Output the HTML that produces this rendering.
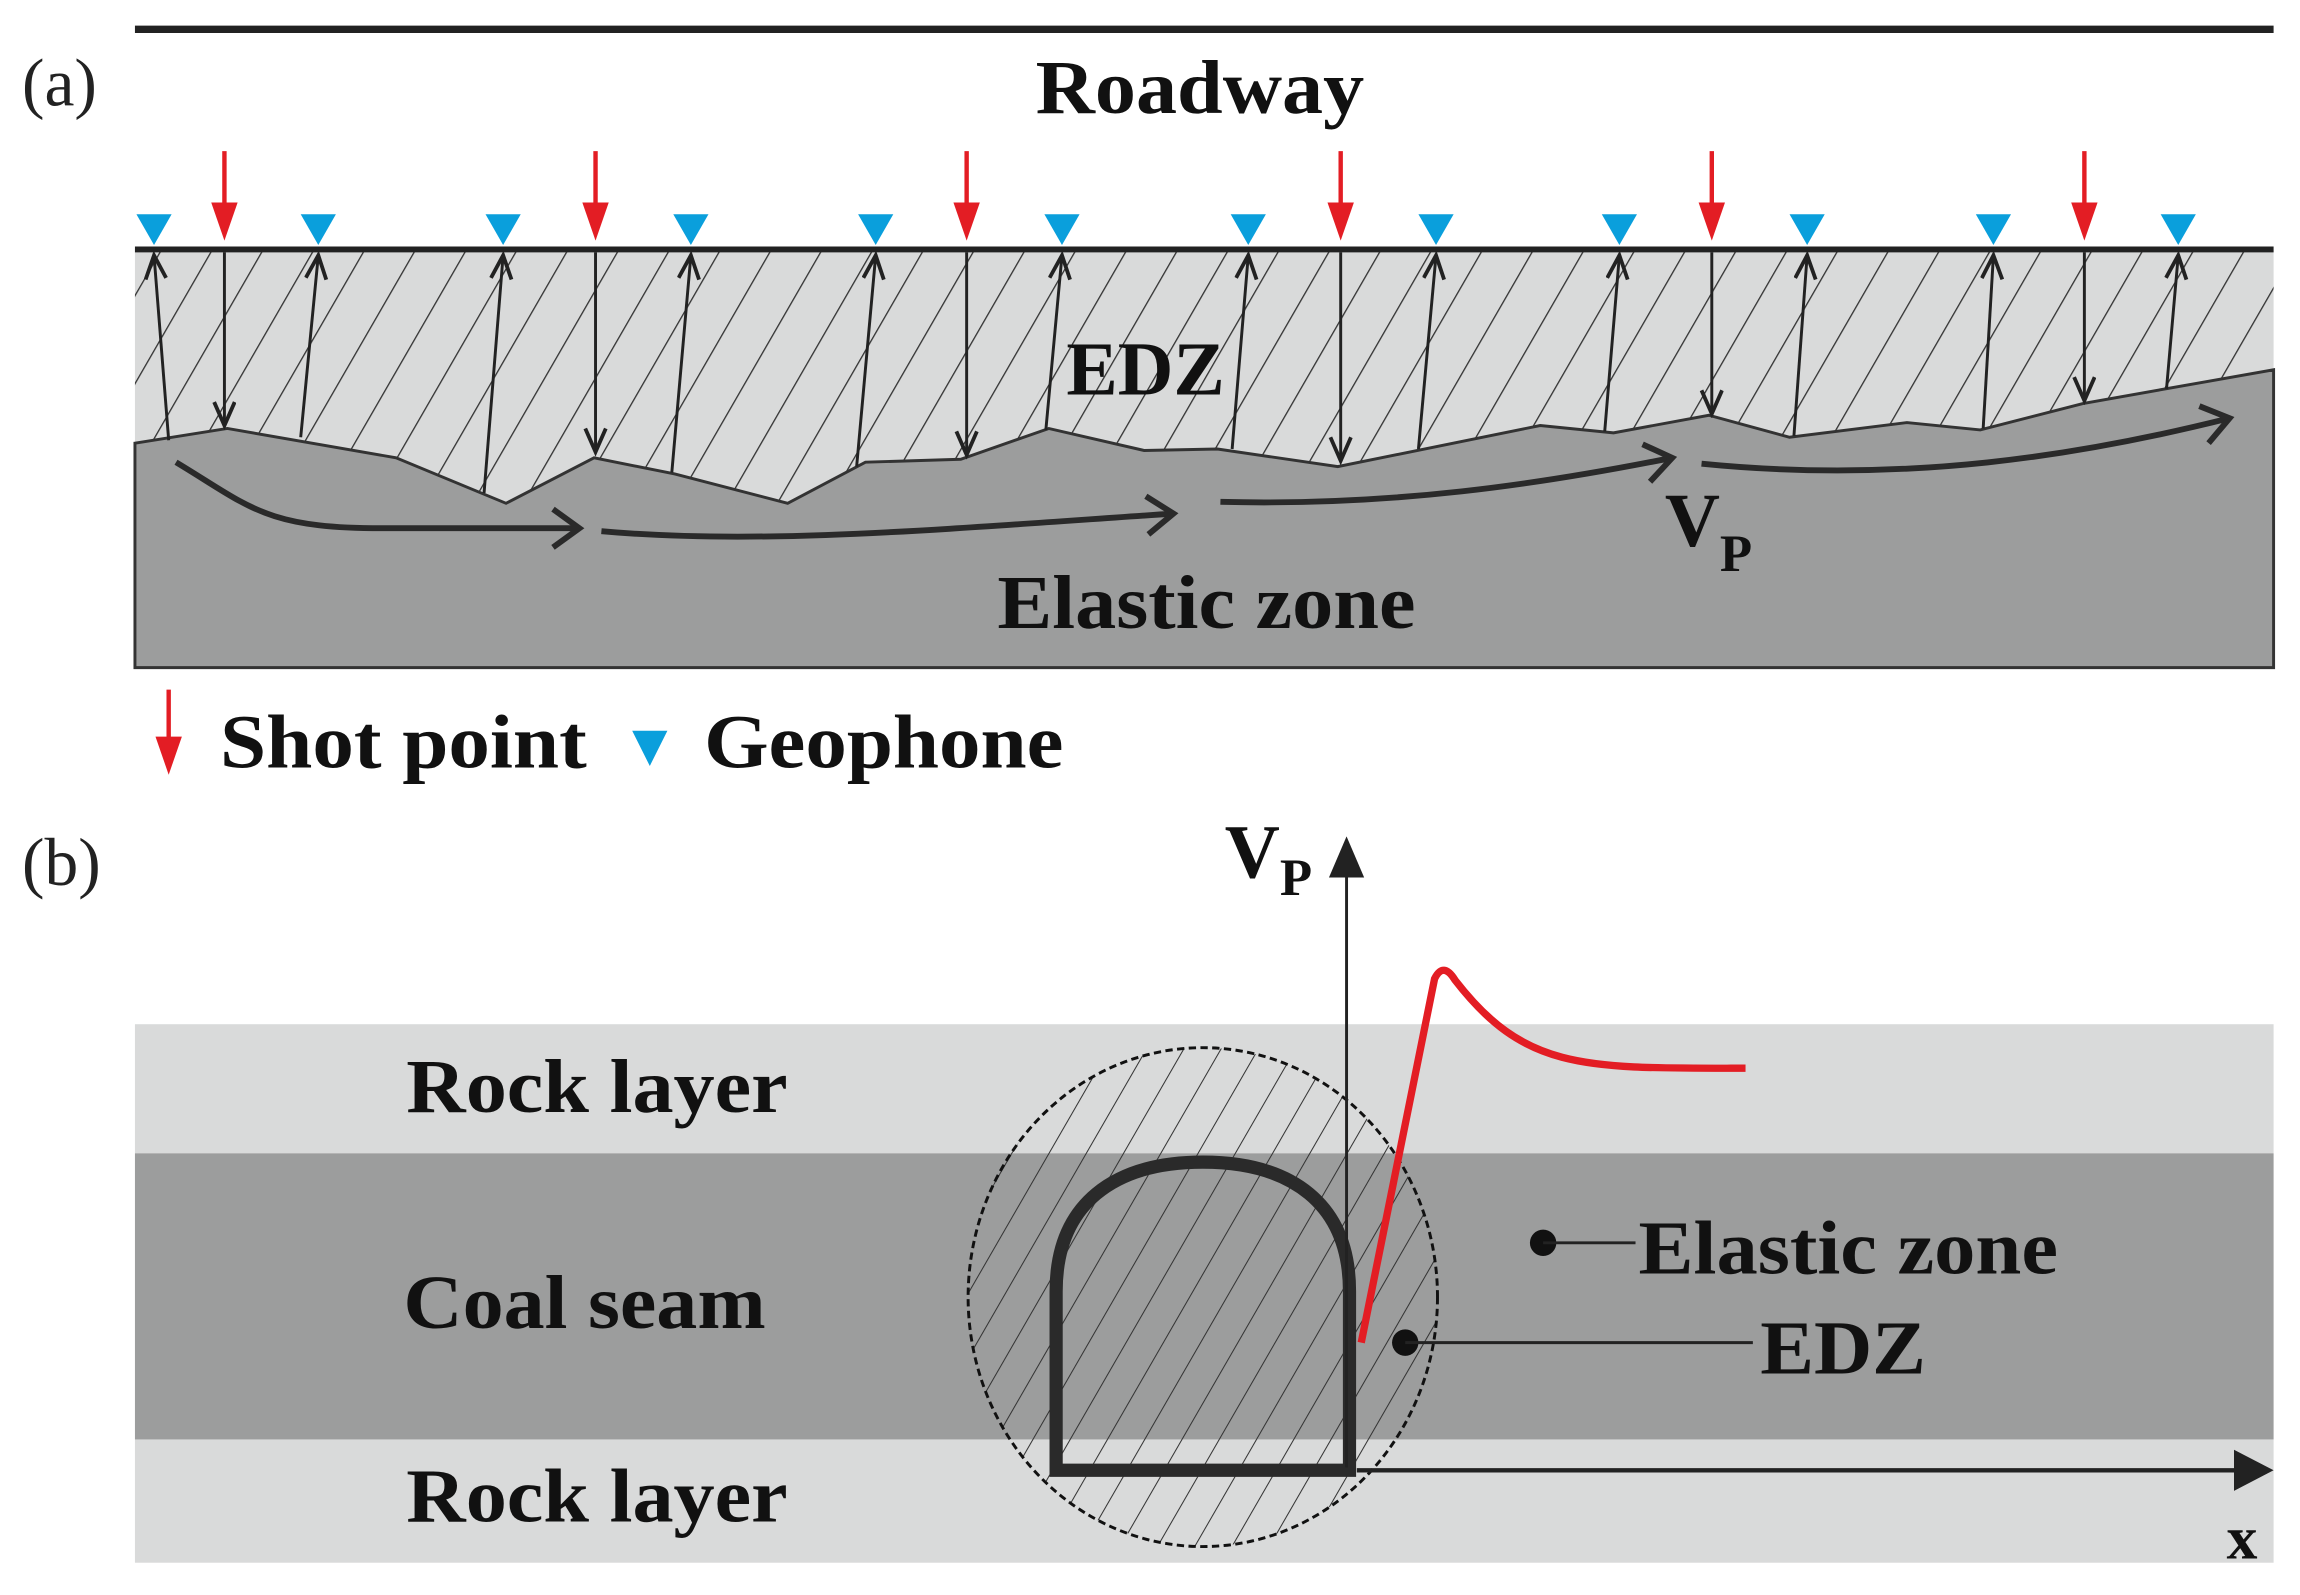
<!DOCTYPE html>
<html><head><meta charset="utf-8"><style>html,body{margin:0;padding:0;background:#fff}svg{display:block}</style></head>
<body>
<svg width="2300" height="1595" viewBox="0 0 1568 1087" preserveAspectRatio="none" xmlns="http://www.w3.org/2000/svg" font-family="'Liberation Serif', serif">
<defs>
<pattern id="h" width="30" height="30" patternUnits="userSpaceOnUse" patternTransform="rotate(30)">
<line x1="0" y1="0" x2="0" y2="30" stroke="#333" stroke-width="1.8"/></pattern>
<pattern id="h2" width="22" height="22" patternUnits="userSpaceOnUse" patternTransform="rotate(30)">
<line x1="0" y1="0" x2="0" y2="22" stroke="#333" stroke-width="1.4"/></pattern>
<marker id="ao" markerWidth="20" markerHeight="20" refX="17" refY="8" orient="auto" markerUnits="userSpaceOnUse"><path d="M1,1 L17,8 L1,15" fill="none" stroke="#222" stroke-width="2.6"/></marker>
<marker id="ab" markerWidth="24" markerHeight="30" refX="20" refY="15" orient="auto" markerUnits="userSpaceOnUse"><path d="M2,2 L20,15 L2,28" fill="none" stroke="#2a2a2a" stroke-width="4"/></marker>
</defs>
<!-- panel a -->
<line x1="92" y1="20" x2="1550" y2="20" stroke="#222" stroke-width="5"/>
<rect x="92" y="170" width="1458" height="185" fill="#d9dada"/>
<rect x="92" y="170" width="1458" height="185" fill="url(#h)"/>
<path d="M92,302 L155,292 L270,312 L345,343 L405,312 L460,323 L537,343 L590,315 L655,313 L715,292 L780,307 L830,306 L912,318 L1050,290 L1100,295 L1165,283 L1220,298 L1300,288 L1350,293 L1420,275 L1550,252 L1550,455 L92,455 Z" fill="#9c9d9d" stroke="#333" stroke-width="2"/>
<line x1="92" y1="170" x2="1550" y2="170" stroke="#222" stroke-width="4"/>
<g stroke="#222" stroke-width="2" marker-end="url(#ao)">
<line x1="115" y1="300" x2="105" y2="174"/><line x1="205" y1="298" x2="217" y2="174"/>
<line x1="330" y1="336" x2="343" y2="174"/><line x1="458" y1="322" x2="471" y2="174"/>
<line x1="584" y1="318" x2="597" y2="174"/><line x1="713" y1="293" x2="724" y2="174"/>
<line x1="840" y1="306" x2="851" y2="174"/><line x1="967" y1="306" x2="979" y2="174"/>
<line x1="1094" y1="294" x2="1104" y2="174"/><line x1="1223" y1="297" x2="1232" y2="174"/>
<line x1="1352" y1="292" x2="1359" y2="174"/><line x1="1477" y1="265" x2="1485" y2="174"/>
<line x1="153" y1="172" x2="153" y2="290"/><line x1="406" y1="172" x2="406" y2="308"/>
<line x1="659" y1="172" x2="659" y2="310"/><line x1="914" y1="172" x2="914" y2="314"/>
<line x1="1167" y1="172" x2="1167" y2="282"/><line x1="1421" y1="172" x2="1421" y2="273"/>
</g>
<g fill="#0a9fdc">
<path d="M93,146 h24 l-12,21z"/><path d="M205,146 h24 l-12,21z"/><path d="M331,146 h24 l-12,21z"/><path d="M459,146 h24 l-12,21z"/><path d="M585,146 h24 l-12,21z"/><path d="M712,146 h24 l-12,21z"/><path d="M839,146 h24 l-12,21z"/><path d="M967,146 h24 l-12,21z"/><path d="M1092,146 h24 l-12,21z"/><path d="M1220,146 h24 l-12,21z"/><path d="M1347,146 h24 l-12,21z"/><path d="M1473,146 h24 l-12,21z"/>
</g>
<g fill="#e31d24" stroke="#e31d24">
<g transform="translate(153,0)"><line x1="0" y1="103" x2="0" y2="140" stroke-width="3"/><path d="M-9,138 h18 l-9,26z" stroke="none"/></g>
<g transform="translate(406,0)"><line x1="0" y1="103" x2="0" y2="140" stroke-width="3"/><path d="M-9,138 h18 l-9,26z" stroke="none"/></g>
<g transform="translate(659,0)"><line x1="0" y1="103" x2="0" y2="140" stroke-width="3"/><path d="M-9,138 h18 l-9,26z" stroke="none"/></g>
<g transform="translate(914,0)"><line x1="0" y1="103" x2="0" y2="140" stroke-width="3"/><path d="M-9,138 h18 l-9,26z" stroke="none"/></g>
<g transform="translate(1167,0)"><line x1="0" y1="103" x2="0" y2="140" stroke-width="3"/><path d="M-9,138 h18 l-9,26z" stroke="none"/></g>
<g transform="translate(1421,0)"><line x1="0" y1="103" x2="0" y2="140" stroke-width="3"/><path d="M-9,138 h18 l-9,26z" stroke="none"/></g>
</g>
<g fill="none" stroke="#2a2a2a" stroke-width="4" marker-end="url(#ab)">
<path d="M120,315 C170,345 180,360 260,360 L395,360"/>
<path d="M410,362 C520,372 650,360 800,350"/>
<path d="M832,342 C950,345 1050,330 1140,312"/>
<path d="M1160,316 C1300,330 1420,310 1520,285"/>
</g>
<text x="15" y="72" font-size="46" fill="#222">(a)</text>
<g font-weight="bold" fill="#111" font-size="52">
<text x="706" y="77" textLength="224" lengthAdjust="spacingAndGlyphs">Roadway</text>
<text x="727" y="269" textLength="108" lengthAdjust="spacingAndGlyphs">EDZ</text>
<text x="1135" y="372">V<tspan font-size="36" dy="17">P</tspan></text>
<text x="680" y="428" textLength="285" lengthAdjust="spacingAndGlyphs">Elastic zone</text>
<text x="150" y="523" textLength="250" lengthAdjust="spacingAndGlyphs">Shot point</text>
<text x="480" y="523" textLength="245" lengthAdjust="spacingAndGlyphs">Geophone</text>
</g>
<line x1="115" y1="470" x2="115" y2="505" stroke="#e31d24" stroke-width="3"/><path d="M106,502 h18 l-9,26z" fill="#e31d24"/>
<path d="M431,498 h24 l-12,24z" fill="#0a9fdc"/>
<!-- panel b -->
<text x="15" y="603" font-size="46" fill="#222">(b)</text>
<rect x="92" y="698" width="1458" height="88" fill="#d9dada"/>
<rect x="92" y="786" width="1458" height="195" fill="#9c9d9d"/>
<rect x="92" y="981" width="1458" height="84" fill="#d9dada"/>
<ellipse cx="820" cy="884" rx="160" ry="170" fill="url(#h2)" stroke="#111" stroke-width="2" stroke-dasharray="5,3"/>
<path d="M720,1002 L720,880 C720,820 760,792 820,792 C880,792 920,820 920,880 L920,1002 Z" fill="none" stroke="#2a2a2a" stroke-width="9"/>
<line x1="918" y1="1000" x2="918" y2="598" stroke="#222" stroke-width="2"/>
<path d="M906,598 L918,570 L930,598 Z" fill="#222"/>
<line x1="925" y1="1002" x2="1525" y2="1002" stroke="#222" stroke-width="3"/>
<path d="M1523,988 L1550,1002 L1523,1016 Z" fill="#222"/>
<path d="M928,915 L978,667 Q984,655 992,668 C1040,730 1080,728 1190,728" fill="none" stroke="#e31d24" stroke-width="5"/>
<circle cx="1052" cy="847" r="9" fill="#111"/><line x1="1052" y1="847" x2="1115" y2="847" stroke="#222" stroke-width="2"/>
<circle cx="958" cy="915" r="9" fill="#111"/><line x1="958" y1="915" x2="1195" y2="915" stroke="#222" stroke-width="2"/>
<g font-weight="bold" fill="#111" font-size="52">
<text x="835" y="598">V<tspan font-size="36" dy="12">P</tspan></text>
<text x="1117" y="868" textLength="286" lengthAdjust="spacingAndGlyphs">Elastic zone</text>
<text x="1200" y="936" textLength="113" lengthAdjust="spacingAndGlyphs">EDZ</text>
<text x="277" y="758" textLength="260" lengthAdjust="spacingAndGlyphs">Rock layer</text>
<text x="275" y="905" textLength="247" lengthAdjust="spacingAndGlyphs">Coal seam</text>
<text x="277" y="1037" textLength="260" lengthAdjust="spacingAndGlyphs">Rock layer</text>
<text x="1518" y="1062" font-size="42">x</text>
</g>
</svg>
</body></html>
